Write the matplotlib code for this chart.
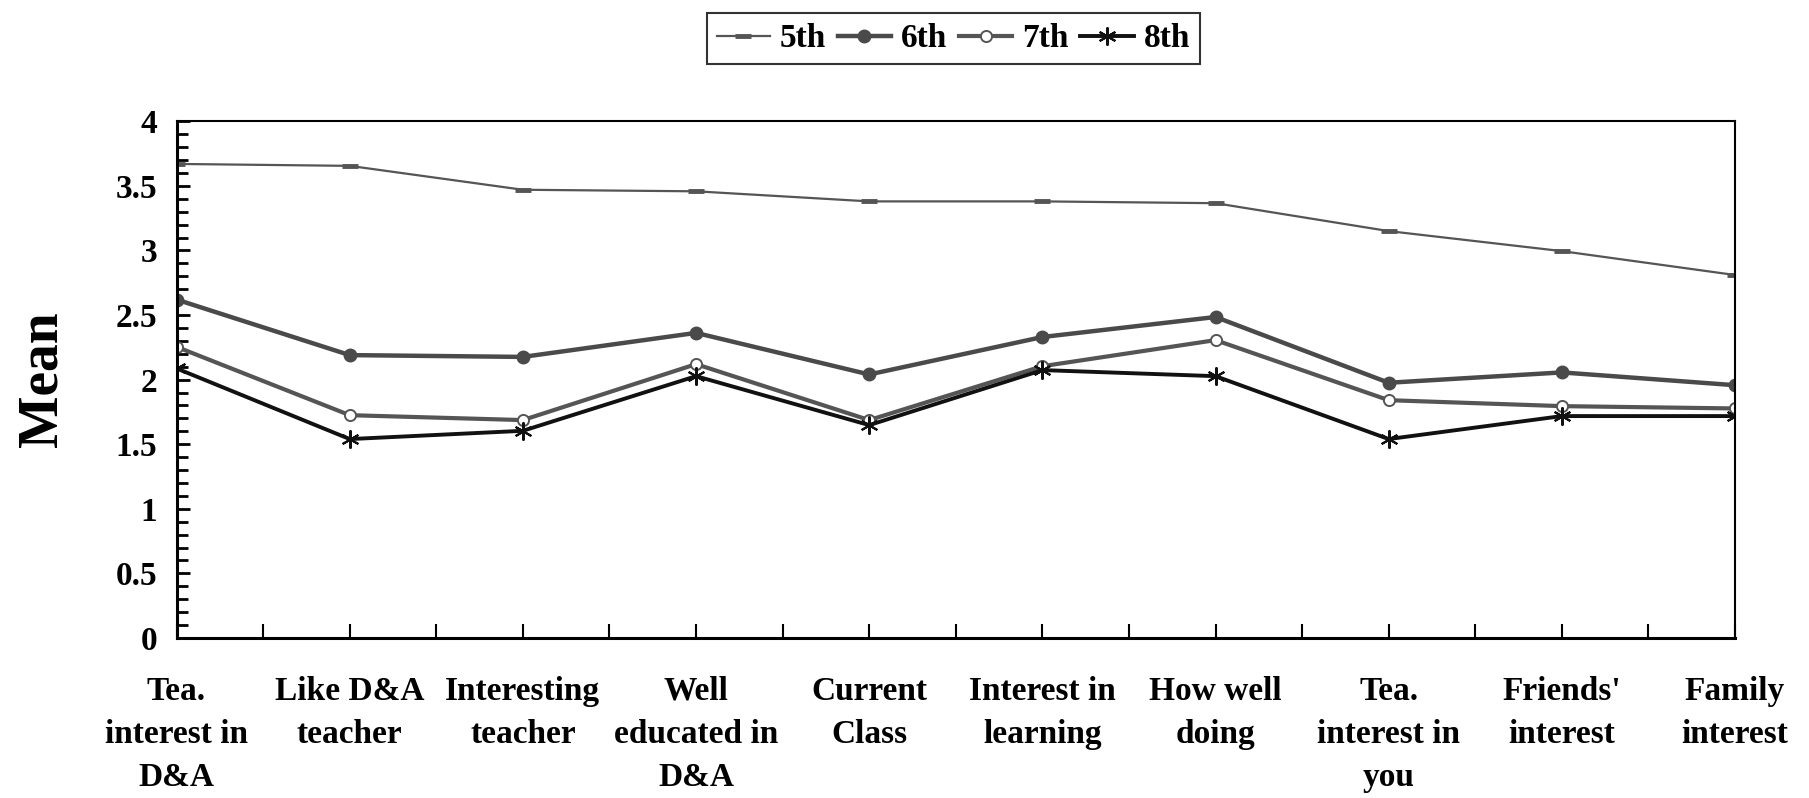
import numpy as np
import matplotlib
matplotlib.use("Agg")
import matplotlib.pyplot as plt
from matplotlib.ticker import MultipleLocator, FormatStrFormatter

# ── Data ─────────────────────────────────────────────────────────────────────
categories = [
    "Tea.\ninterest in\nD&A", "Like D&A\nteacher", "Interesting\nteacher",
    "Well\neducated in\nD&A", "Current\nClass", "Interest in\nlearning",
    "How well\ndoing", "Tea.\ninterest in\nyou", "Friends'\ninterest",
    "Family\ninterest",
]
grade5 = [3.67, 3.655, 3.47, 3.458, 3.38, 3.38, 3.366, 3.15, 2.995, 2.81]
grade6 = [2.62, 2.19, 2.176, 2.362, 2.04, 2.33, 2.485, 1.976, 2.056, 1.957]
grade7 = [2.254, 1.725, 1.687, 2.12, 1.687, 2.104, 2.306, 1.841, 1.795, 1.777]
grade8 = [2.087, 1.54, 1.604, 2.027, 1.648, 2.074, 2.027, 1.54, 1.718, 1.718]
# ─────────────────────────────────────────────────────────────────────────────

plt.rcParams["font.family"] = ["Liberation Serif", "DejaVu Serif"]
plt.rcParams["font.weight"] = "bold"

fig = plt.figure(figsize=(18.09, 7.98), dpi=100)
ax = fig.add_axes([0.0976, 0.2005, 0.9591 - 0.0976, 0.848 - 0.2005])

x = np.arange(len(categories))
ax.plot(x, grade5, color="#555555", lw=1.6, marker="_", ms=11, mew=3.5,
        label="5th")
ax.plot(x, grade6, color="#4a4a4a", lw=3.2, marker="o", ms=9,
        label="6th")
ax.plot(x, grade7, color="#555555", lw=3.0, marker="o", ms=8,
        mfc="white", mec="#555555", mew=1.4, label="7th")
ax.plot(x, grade8, color="#111111", lw=2.8, marker=(6, 2, 0), ms=13,
        mew=1.5, label="8th")

ax.set_xlim(0, len(categories) - 1)
ax.set_ylim(0, 4)
ax.yaxis.set_major_locator(MultipleLocator(0.5))
ax.yaxis.set_minor_locator(MultipleLocator(0.1))
ax.yaxis.set_major_formatter(FormatStrFormatter("%g"))

ax.set_xticks(x)
ax.set_xticklabels(categories, fontsize=24, fontweight="bold",
                   linespacing=1.5)
ax.set_xticks(x[:-1] + 0.5, minor=True)

ax.tick_params(axis="y", which="major", direction="in", length=9,
               width=2, pad=14, labelsize=24)
ax.tick_params(axis="y", which="minor", direction="in", length=8, width=2)
ax.tick_params(axis="x", which="both", direction="in", length=10,
               width=1.5, pad=27)

for side in ["left", "bottom"]:
    ax.spines[side].set_linewidth(2.2)
for side in ["top", "right"]:
    ax.spines[side].set_linewidth(1.5)

ax.set_ylabel("Mean", fontsize=40, fontweight="bold", labelpad=34)

leg = fig.legend(loc="upper center", bbox_to_anchor=(0.527, 1.004), ncol=4,
                 frameon=True, fancybox=False, edgecolor="black",
                 handlelength=1.6, handletextpad=0.3, columnspacing=0.35,
                 borderpad=0.3, prop={"weight": "bold", "size": 24})
leg.get_frame().set_linewidth(1.5)

fig.savefig("out.png", dpi=100)
